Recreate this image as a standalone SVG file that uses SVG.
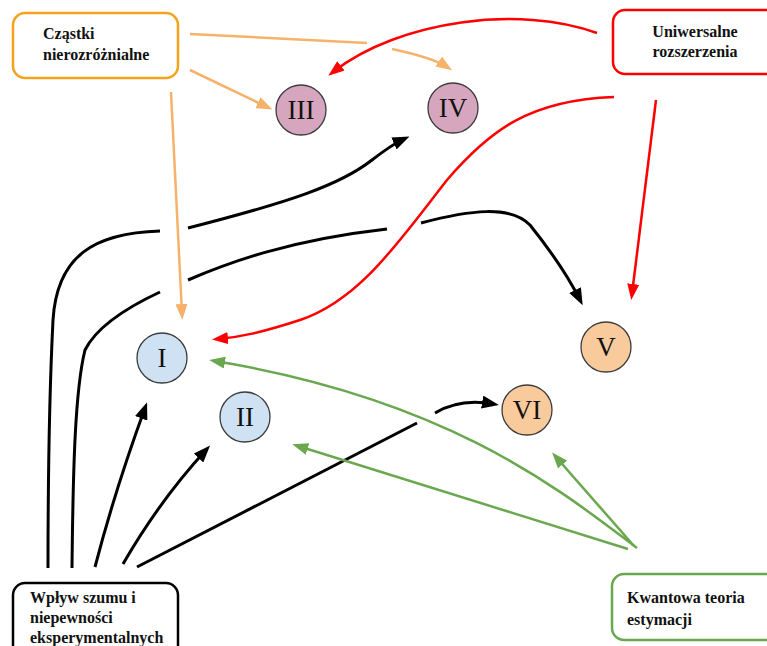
<svg xmlns="http://www.w3.org/2000/svg" width="767" height="646" viewBox="0 0 767 646">
<style>
.box{fill:#fff;stroke-width:2.5}
.lbl{font-family:"Liberation Serif",serif;font-weight:bold;font-size:16px;fill:#111}
.circ{stroke:#3c3c3c;stroke-width:1.3}
.num{font-family:"Liberation Serif",serif;font-size:27px;fill:#111;text-anchor:middle}
.c{fill:none}
.k{stroke:#000;stroke-width:3}
.o{stroke:#f6b26b;stroke-width:2.5}
.r{stroke:#ff0000;stroke-width:2.5}
.g{stroke:#6aa84f;stroke-width:2.5}
</style>
<defs>
<marker id="ak" markerUnits="userSpaceOnUse" markerWidth="17" markerHeight="13" refX="11" refY="6.5" orient="auto"><path d="M0,0 L17,6.5 L0,13 z" fill="#000"/></marker>
<marker id="ao" markerUnits="userSpaceOnUse" markerWidth="16" markerHeight="12" refX="10" refY="6" orient="auto"><path d="M0,0 L16,6 L0,12 z" fill="#f6b26b"/></marker>
<marker id="ar" markerUnits="userSpaceOnUse" markerWidth="16" markerHeight="12" refX="10" refY="6" orient="auto"><path d="M0,0 L16,6 L0,12 z" fill="#ff0000"/></marker>
<marker id="ag" markerUnits="userSpaceOnUse" markerWidth="16" markerHeight="12" refX="10" refY="6" orient="auto"><path d="M0,0 L16,6 L0,12 z" fill="#6aa84f"/></marker>
</defs>
<rect width="767" height="646" fill="#fff"/>
<g id="connectors">
<path class="c o" d="M190,34 L367,43"/>
<path class="c o" d="M392,49 C420,55 438,61 447,67" marker-end="url(#ao)"/>
<path class="c o" d="M190,70 L267,107" marker-end="url(#ao)"/>
<path class="c o" d="M171,92 L182,314" marker-end="url(#ao)"/>
<path class="c r" d="M597,33 C520,5 400,20 333,72" marker-end="url(#ar)"/>
<path class="c r" d="M614,97 C530,100 490,130 447,180 C400,240 360,300 300,320 C260,333 240,337 218,339" marker-end="url(#ar)"/>
<path class="c r" d="M656,100 L632,294" marker-end="url(#ar)"/>
<path class="c k" d="M48,568 C48,480 50,380 53,320 C57,255 95,233 160,231"/>
<path class="c k" d="M188,228 C290,202 340,185 372,160 C385,150 395,143 404,139" marker-end="url(#ak)"/>
<path class="c k" d="M72,568 C73,470 75,390 85,350 Q100,320 160,292"/>
<path class="c k" d="M188,280 C230,262 290,240 387,229"/>
<path class="c k" d="M421,223 C470,210 510,205 530,225 C550,250 570,280 580,300" marker-end="url(#ak)"/>
<path class="c k" d="M95,567 Q115,490 145,408" marker-end="url(#ak)"/>
<path class="c k" d="M123,564 Q160,500 206,450" marker-end="url(#ak)"/>
<path class="c k" d="M137,567 L417,423"/>
<path class="c k" d="M435,413 Q460,398 493,404" marker-end="url(#ak)"/>
<path class="c g" d="M637,548 C560,490 450,400 215,361" marker-end="url(#ag)"/>
<path class="c g" d="M628,549 L298,446" marker-end="url(#ag)"/>
<path class="c g" d="M634,546 L556,457" marker-end="url(#ag)"/>
</g>
<g id="czastki">
<rect class="box" x="13" y="13" width="165" height="65" rx="12" stroke="#f5a31a"/>
<text class="lbl" x="43" y="39">Cząstki</text>
<text class="lbl" x="43" y="60">nierozróżnialne</text>
</g>
<g id="uniwersalne">
<rect class="box" x="613" y="10" width="170" height="64" rx="12" stroke="#ff0000"/>
<text class="lbl" x="695" y="37" text-anchor="middle">Uniwersalne</text>
<text class="lbl" x="695" y="57" text-anchor="middle">rozszerzenia</text>
</g>
<g id="wplyw">
<rect class="box" x="13" y="583" width="165" height="80" rx="12" stroke="#000"/>
<text class="lbl" x="30" y="603">Wpływ szumu i</text>
<text class="lbl" x="30" y="623">niepewności</text>
<text class="lbl" x="30" y="643">eksperymentalnych</text>
</g>
<g id="kwantowa">
<rect class="box" x="612" y="574" width="170" height="66" rx="12" stroke="#6aa84f"/>
<text class="lbl" x="627" y="603">Kwantowa teoria</text>
<text class="lbl" x="627" y="625">estymacji</text>
</g>
<g id="nI"><circle class="circ" cx="162" cy="358" r="25" fill="#cfe2f3"/><text class="num" x="162" y="367">I</text></g>
<g id="nII"><circle class="circ" cx="245" cy="417" r="25" fill="#cfe2f3"/><text class="num" x="245" y="426">II</text></g>
<g id="nIII"><circle class="circ" cx="301" cy="110" r="25" fill="#d5a6bd"/><text class="num" x="301" y="119">III</text></g>
<g id="nIV"><circle class="circ" cx="453" cy="108" r="25" fill="#d5a6bd"/><text class="num" x="453" y="117">IV</text></g>
<g id="nV"><circle class="circ" cx="606" cy="347" r="25" fill="#f9cb9c"/><text class="num" x="606" y="356">V</text></g>
<g id="nVI"><circle class="circ" cx="527" cy="410" r="25" fill="#f9cb9c"/><text class="num" x="527" y="419">VI</text></g>
</svg>
